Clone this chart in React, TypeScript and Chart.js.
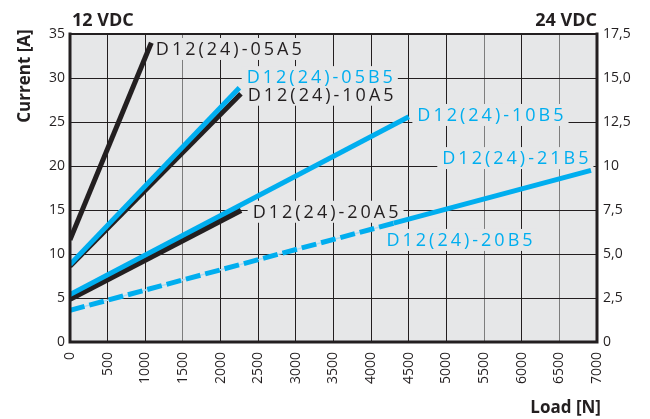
import { useEffect, useRef } from 'react';
import { Chart, registerables } from 'chart.js';
Chart.register(...registerables);

// ---- data ----
const loadTicks = [0, 500, 1000, 1500, 2000, 2500, 3000, 3500, 4000, 4500, 5000, 5500, 6000, 6500, 7000];
const loadTickLabels = ['0', '500', '1000', '1500', '2000', '2500', '3000', '3500', '4000', '4500', '5000', '5500', '6000', '6500', '7000'];
const currentTicks12 = [0, 5, 10, 15, 20, 25, 30, 35];
const currentTickLabels12 = ['0', '5', '10', '15', '20', '25', '30', '35'];
const currentTicks24 = [0, 2.5, 5, 7.5, 10, 12.5, 15, 17.5];
const currentTickLabels24 = ['0', '2,5', '5,0', '7,5', '10', '12,5', '15,0', '17,5'];

const load05A5 = [0, 1080];
const current05A5 = [11.6, 34.0];
const load05B5 = [0, 2250];
const current05B5 = [8.8, 28.9];
const load10A5 = [0, 2270];
const current10A5 = [8.6, 28.2];
const load10B5 = [0, 4500];
const current10B5 = [5.4, 25.6];
const load20A5 = [0, 2270];
const current20A5 = [4.9, 15.0];
const load20B5 = [0, 4300];
const current20B5 = [3.6, 13.5];
const load21B5 = [4300, 6920];
const current21B5 = [13.5, 19.5];

const BLACK = '#231f20';
const BLUE = '#00aeef';
const PALE = '#a9ddf5';
const BG = '#e6e7e8';
const FONT = '"Open Sans", "Noto Sans", sans-serif';

// label anchors (data coordinates: left x, centre y)
const seriesLabels = [
  { text: 'D12(24)-05A5', color: BLACK, x: 1140, y: 33.3 },
  { text: 'D12(24)-05B5', color: BLUE, x: 2347, y: 30.1 },
  { text: 'D12(24)-10A5', color: BLACK, x: 2360, y: 28.1 },
  { text: 'D12(24)-10B5', color: BLUE, x: 4614, y: 25.8 },
  { text: 'D12(24)-21B5', color: BLUE, x: 4945, y: 20.9 },
  { text: 'D12(24)-20B5', color: BLUE, x: 4203, y: 11.6 },
  { text: 'D12(24)-20A5', color: BLACK, x: 2426, y: 14.8 },
];

const pts = (xs: number[], ys: number[]) => xs.map((x, i) => ({ x, y: ys[i] }));

const bgPlugin = {
  id: 'bgPlugin',
  beforeDraw(chart: any) {
    const { ctx, chartArea: a } = chart;
    ctx.save();
    ctx.fillStyle = BG;
    ctx.fillRect(a.left, a.top, a.right - a.left, a.bottom - a.top);
    ctx.restore();
  },
  beforeDatasetsDraw(chart: any) {
    const { ctx } = chart;
    const xs = chart.scales.x;
    const ys = chart.scales.y;
    ctx.save();
    ctx.font = `18px ${FONT}`;
    (ctx as any).letterSpacing = '3px';
    ctx.textBaseline = 'middle';
    ctx.textAlign = 'left';
    for (const l of seriesLabels) {
      const px = xs.getPixelForValue(l.x);
      const py = ys.getPixelForValue(l.y);
      const w = ctx.measureText(l.text).width - 3;
      ctx.fillStyle = BG;
      ctx.fillRect(px - 5, py - 11, w + 10, 22);
    }
    for (const l of seriesLabels) {
      const px = xs.getPixelForValue(l.x);
      const py = ys.getPixelForValue(l.y);
      ctx.fillStyle = l.color;
      ctx.fillText(l.text, px, py + 1);
    }
    ctx.restore();
  },
  afterDraw(chart: any) {
    const { ctx, chartArea: a } = chart;
    ctx.save();
    ctx.strokeStyle = BLACK;
    ctx.lineCap = 'square';
    ctx.lineWidth = 2;
    ctx.beginPath();
    ctx.moveTo(a.left, a.top);
    ctx.lineTo(a.right, a.top);
    ctx.stroke();
    ctx.lineWidth = 3;
    ctx.beginPath();
    ctx.moveTo(a.right, a.top);
    ctx.lineTo(a.right, a.bottom);
    ctx.lineTo(a.left, a.bottom);
    ctx.lineTo(a.left, a.top);
    ctx.stroke();

    ctx.fillStyle = BLACK;
    ctx.font = `bold 18px ${FONT}`;
    ctx.textBaseline = 'alphabetic';
    ctx.textAlign = 'left';
    ctx.fillText('12 VDC', a.left + 2, 26);
    ctx.textAlign = 'right';
    ctx.fillText('24 VDC', a.right, 26);
    ctx.font = `bold 17px ${FONT}`;
    ctx.fillText('Load [N]', 601, 413);
    ctx.translate(25, 76);
    ctx.rotate(-Math.PI / 2);
    ctx.textAlign = 'center';
    ctx.textBaseline = 'middle';
    ctx.font = `bold 17px ${FONT}`;
    ctx.fillText('Current [A]', 0, 0);
    ctx.restore();
  },
};

const line = (label: string, data: any[], color: string, width: number, order: number, dash: number[] = []) => ({
  label,
  data,
  showLine: true,
  borderColor: color,
  backgroundColor: color,
  borderWidth: width,
  borderDash: dash,
  borderCapStyle: 'butt',
  pointRadius: 0,
  pointHoverRadius: 0,
  order,
  xAxisID: 'x',
  yAxisID: 'y',
});

export default function App() {
  const ref = useRef<HTMLCanvasElement | null>(null);
  useEffect(() => {
    document.body.style.margin = '0';
    if (!ref.current) return;
    const chart = new Chart(ref.current, {
      type: 'scatter',
      data: {
        datasets: [
          line('D12(24)-05B5', pts(load05B5, current05B5), BLUE, 5, 1),
          line('D12(24)-10B5', pts(load10B5, current10B5), BLUE, 5, 1),
          line('D12(24)-20B5', pts(load20B5, current20B5), BLUE, 5, 1, [15, 5]),
          line('D12(24)-20B5 trace', pts(load20B5, current20B5), PALE, 1.5, 3),
          line('D12(24)-21B5', pts(load21B5, current21B5), BLUE, 5, 1),
          line('D12(24)-05A5', pts(load05A5, current05A5), BLACK, 5, 2),
          line('D12(24)-10A5', pts(load10A5, current10A5), BLACK, 5, 2),
          line('D12(24)-20A5', pts(load20A5, current20A5), BLACK, 6, 2),
        ] as any,
      },
      options: {
        responsive: true,
        maintainAspectRatio: false,
        animation: false,
        layout: { padding: { top: 34, left: 0, right: 0, bottom: 0 } },
        plugins: { legend: { display: false }, tooltip: { enabled: false } },
        scales: {
          x: {
            type: 'linear',
            min: 0,
            max: 7000,
            afterBuildTicks: (s: any) => { s.ticks = loadTicks.map((v) => ({ value: v })); },
            afterFit: (s: any) => { s.height = 77; },
            ticks: {
              autoSkip: false,
              maxRotation: 90,
              minRotation: 90,
              padding: 10,
              color: BLACK,
              font: { family: FONT, size: 14 },
              callback: (v: any) => loadTickLabels[loadTicks.indexOf(Number(v))] ?? '',
            },
            grid: {
              drawTicks: false,
              lineWidth: 1,
              color: (c: any) => ([1500, 5500, 6500].includes(c.tick?.value) ? '#7d7d7d' : BLACK),
            },
            border: { display: false },
          },
          y: {
            type: 'linear',
            position: 'left',
            min: 0,
            max: 35,
            afterBuildTicks: (s: any) => { s.ticks = currentTicks12.map((v) => ({ value: v })); },
            afterFit: (s: any) => { s.width = 70; },
            ticks: {
              padding: 5,
              color: BLACK,
              font: { family: FONT, size: 14 },
              callback: (v: any) => currentTickLabels12[currentTicks12.indexOf(Number(v))] ?? '',
            },
            grid: { drawTicks: false, lineWidth: 1, color: BLACK },
            border: { display: false },
          },
          y2: {
            type: 'linear',
            position: 'right',
            min: 0,
            max: 17.5,
            afterBuildTicks: (s: any) => { s.ticks = currentTicks24.map((v) => ({ value: v })); },
            afterFit: (s: any) => { s.width = 53; },
            ticks: {
              padding: 6,
              color: BLACK,
              font: { family: FONT, size: 14 },
              callback: (v: any) => currentTickLabels24[currentTicks24.indexOf(Number(v))] ?? '',
            },
            grid: { display: false, drawTicks: false },
            border: { display: false },
          },
        },
      } as any,
      plugins: [bgPlugin],
    });
    return () => chart.destroy();
  }, []);
  return (
    <div style={{ position: 'relative', width: 650, height: 419 }}>
      <canvas ref={ref} />
    </div>
  );
}
